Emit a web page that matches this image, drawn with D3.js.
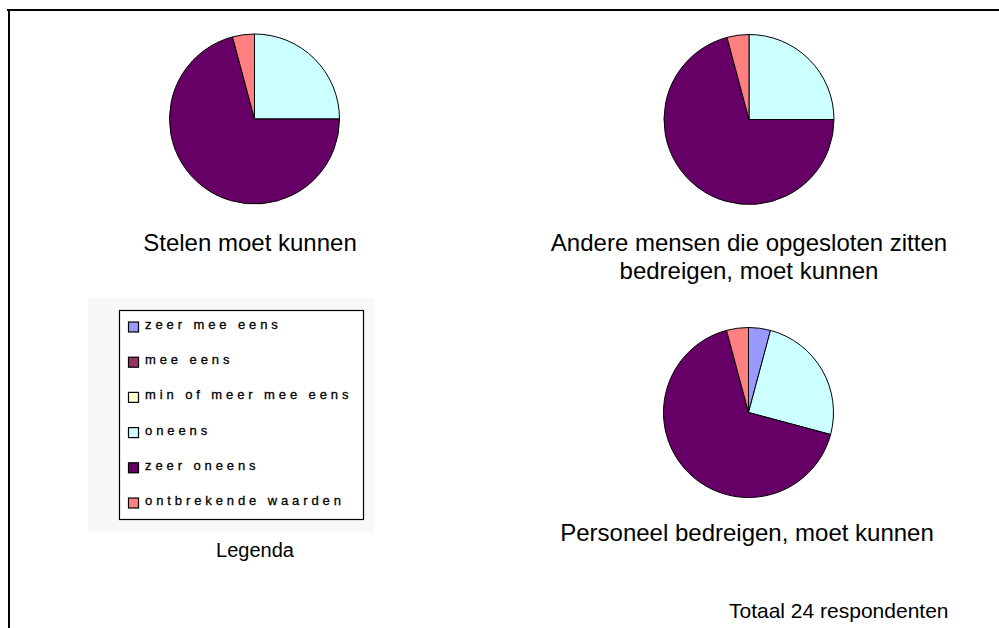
<!DOCTYPE html>
<html>
<head>
<meta charset="utf-8">
<script src="https://cdn.jsdelivr.net/npm/d3@7"></script>
<style>
  html, body { margin: 0; padding: 0; background: #fff; }
  svg { display: block; }
</style>
</head>
<body>
<svg id="chart" width="999" height="628"></svg>
<script>
// ---- data ----
const categories = ["zeer mee eens", "mee eens", "min of meer mee eens", "oneens", "zeer oneens", "ontbrekende waarden"];
const colors = ["#9999FF", "#993366", "#FFFFCC", "#CCFFFF", "#660066", "#FF8080"];
const stelenValues = [0, 0, 0, 6, 17, 1];
const andereValues = [0, 0, 0, 6, 17, 1];
const personeelValues = [1, 0, 0, 6, 16, 1];
const titles = [
  ["Stelen moet kunnen"],
  ["Andere mensen die opgesloten zitten", "bedreigen, moet kunnen"],
  ["Personeel bedreigen, moet kunnen"]
];
const legendTitle = "Legenda";
const footnote = "Totaal 24 respondenten";

const svg = d3.select("#chart");
const font = "Liberation Sans, Arial, sans-serif";

// frame
svg.append("line").attr("x1", 7).attr("x2", 999).attr("y1", 10).attr("y2", 10)
  .attr("stroke", "#000").attr("stroke-width", 2);
svg.append("line").attr("x1", 9).attr("x2", 9).attr("y1", 9).attr("y2", 628)
  .attr("stroke", "#000").attr("stroke-width", 2);

const color = d3.scaleOrdinal().domain(categories).range(colors);
const pie = d3.pie().sort(null).value(d => d.v);
const R = 85;
const arc = d3.arc().innerRadius(0).outerRadius(R);

function drawPie(values, cx, cy, titleLines, tx, ty) {
  const data = values.map((v, i) => ({ c: categories[i], v }));
  const g = svg.append("g").attr("transform", `translate(${cx},${cy})`);
  g.selectAll("path").data(pie(data).filter(d => d.data.v > 0)).join("path")
    .attr("d", arc)
    .attr("fill", d => color(d.data.c))
    .attr("stroke", "#000").attr("stroke-width", 1);
  const t = svg.append("text").attr("x", tx).attr("y", ty)
    .attr("text-anchor", "middle").attr("font-family", font).attr("font-size", 24).attr("fill", "#000");
  titleLines.forEach((line, i) => {
    t.append("tspan").attr("x", tx).attr("dy", i === 0 ? 0 : 28).text(line);
  });
}

drawPie(stelenValues, 254.5, 119, titles[0], 250, 251);
drawPie(andereValues, 749, 119.5, titles[1], 749, 251);
drawPie(personeelValues, 748.5, 412.5, titles[2], 747, 541);

// legend
const lg = svg.append("g");
lg.append("rect").attr("x", 88).attr("y", 298).attr("width", 286).attr("height", 235).attr("fill", "#f8f8f8");
lg.append("rect").attr("x", 119.5).attr("y", 310.5).attr("width", 244).attr("height", 209)
  .attr("fill", "#fff").attr("stroke", "#000").attr("stroke-width", 1.2);
const ly = d3.scalePoint().domain(categories).range([329, 505]);
const items = lg.selectAll("g.item").data(categories).join("g").attr("class", "item")
  .attr("transform", d => `translate(0,${ly(d)})`);
items.append("rect").attr("x", 128.5).attr("y", -7).attr("width", 10).attr("height", 10)
  .attr("fill", d => color(d)).attr("stroke", "#000").attr("stroke-width", 1.2);
items.append("text").attr("x", 145).attr("y", 0)
  .attr("font-family", font).attr("font-size", 13).attr("letter-spacing", "3.9px")
  .attr("fill", "#000").attr("stroke", "#000").attr("stroke-width", 0.3).text(d => d);

svg.append("text").attr("x", 255).attr("y", 557).attr("text-anchor", "middle")
  .attr("font-family", font).attr("font-size", 20).text(legendTitle);

svg.append("text").attr("x", 729).attr("y", 618)
  .attr("font-family", font).attr("font-size", 21).text(footnote);
</script>
</body>
</html>
